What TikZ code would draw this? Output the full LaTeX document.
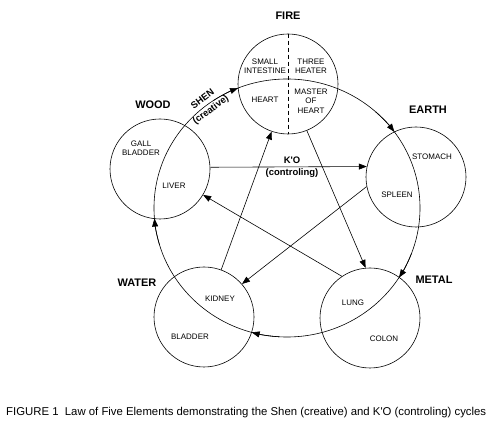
\documentclass[tikz,border=0pt]{standalone}
\usepackage{fontspec}
\setmainfont{Liberation Sans}
\usetikzlibrary{arrows.meta,calc}
\begin{document}
\begin{tikzpicture}[x=1bp,y=1bp,
  organ/.style={font=\fontsize{8}{9.5}\selectfont, align=center, inner sep=0},
  elem/.style={font=\fontsize{11}{13}\selectfont\bfseries, inner sep=0},
  cyc/.style={font=\fontsize{9.5}{11}\selectfont\bfseries, inner sep=0, align=center},
  ring/.style={draw, circle, minimum size=100bp, inner sep=0, line width=0.6pt},
  ln/.style={line width=0.6pt},
  arr/.style={ln, -{Triangle[length=8bp,width=6bp]}}]
\useasboundingbox (0,0) rectangle (504,436);
% element circles
\node[ring] (F) at (288,352) {};
\node[ring] (W) at (160,267) {};
\node[ring] (E) at (416,259) {};
\node[ring] (A) at (204,119) {};
\node[ring] (M) at (370,118) {};
% fire split
\draw[ln, dash pattern=on 4bp off 3bp] (F.north) -- (F.south);
% Shen (creative) cycle
\coordinate (C) at (287,228);
\draw[ln] (C) ellipse [x radius=133, y radius=129];
\foreach \t in {111.6,36.2,-32.6,-105.4,184.7}{
  \draw[arr] ($(C)+({\t+12}:133 and 129)$) arc[start angle=\t+12, end angle=\t, x radius=133, y radius=129];
}
% K'O (controling) cycle
\draw[arr] (W.2) -- (E.168.5);
\draw[arr] (E.191) -- (A.41);
\draw[arr] (A.70) -- (F.251.6);
\draw[arr] (F.292.4) -- (M.95.6);
\draw[arr] (M.124.3) -- (W.329);
% element names
\node[elem] (tF) at (288,420.5) {FIRE};
\node[elem] (tW) at (153,331) {WOOD};
\node[elem] (tE) at (428,326) {EARTH};
\node[elem] (tA) at (137,153) {WATER};
\node[elem] (tM) at (434,156) {METAL};
% organs
\node[organ] (si) at (265,370) {SMALL\\INTESTINE};
\node[organ] (th) at (311,370) {THREE\\HEATER};
\node[organ] (he) at (265,336) {HEART};
\node[organ] (mh) at (311,335) {MASTER\\OF\\HEART};
\node[organ] (gb) at (141,288) {GALL\\BLADDER};
\node[organ] (lv) at (174,250) {LIVER};
\node[organ] (st) at (432,279) {STOMACH};
\node[organ] (sp) at (397,241) {SPLEEN};
\node[organ] (kd) at (220,137) {KIDNEY};
\node[organ] (bl) at (190,99) {BLADDER};
\node[organ] (lu) at (353,133) {LUNG};
\node[organ] (co) at (384,97) {COLON};
% cycle labels
\node[cyc, rotate=37, font=\fontsize{9.5}{13.5}\selectfont\bfseries] (sh) at (207,331) {SHEN\\(creative)};
\node[cyc] (ko) at (292,276) {K\textquotesingle O};
\node[cyc] (ct) at (292,263) {(controling)};
% caption
\node[anchor=west, inner sep=0, font=\fontsize{11.4}{13}\selectfont] (cap) at (6,23)
  {FIGURE 1\ \ Law of Five Elements demonstrating the Shen (creative) and K\textquotesingle O (controling) cycles};
\end{tikzpicture}
\end{document}
